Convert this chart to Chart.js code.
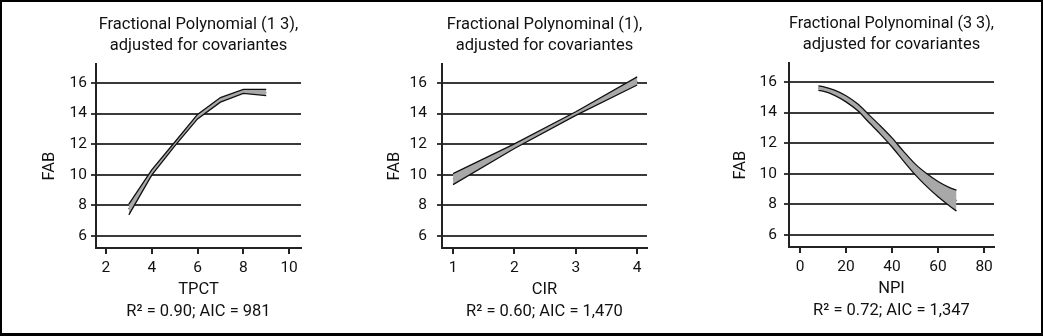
<!DOCTYPE html>
<html>
<head>
<meta charset="utf-8">
<script src="https://cdn.jsdelivr.net/npm/chart.js@4.4.1/dist/chart.umd.min.js"></script>
<style>
  body { margin: 0; background: #fff; }
  #page { position: relative; width: 1043px; height: 336px; overflow: hidden; background: #fff; }
  #frame { position: absolute; left: 0; top: 0; width: 1043px; height: 336px; box-sizing: border-box;
           border: 2px solid #000; border-bottom-width: 3px; pointer-events: none; }
  canvas { position: absolute; }
  .ylab { position: absolute; color: #111; white-space: nowrap; line-height: 1;
          font: 16.5px Roboto, 'Liberation Sans', sans-serif;
          transform: translate(-50%, -50%) rotate(-90deg); }
</style>
</head>
<body>
<div id="page">
  <canvas id="c1" width="347" height="336" style="left:1px;top:0"></canvas>
  <canvas id="c2" width="347" height="336" style="left:347px;top:0"></canvas>
  <canvas id="c3" width="347" height="336" style="left:694px;top:-1px"></canvas>
  <div class="ylab" style="left:47.5px;top:166px">FAB</div>
  <div class="ylab" style="left:392.5px;top:166px">FAB</div>
  <div class="ylab" style="left:739px;top:165px">FAB</div>
  <div id="frame"></div>
</div>
<script>
// shared y axis
const fabTicks = [6, 8, 10, 12, 14, 16];

// panel 1: TPCT
const tpctX = [3, 4, 5, 6, 7, 8, 9];
const tpctFit = [7.75, 10.15, 12.0, 13.8, 14.9, 15.45, 15.38];
const tpctUp = [8.08, 10.32, 12.13, 13.95, 15.05, 15.58, 15.58];
const tpctLow = [7.38, 9.98, 11.87, 13.65, 14.75, 15.32, 15.18];
const tpctTicks = [2, 4, 6, 8, 10];

// panel 2: CIR
const cirX = [1, 2, 3, 4];
const cirFit = [9.72, 11.87, 14.0, 16.13];
const cirUp = [10.08, 12.02, 14.12, 16.4];
const cirLow = [9.36, 11.72, 13.88, 15.87];
const cirTicks = [1, 2, 3, 4];

// panel 3: NPI
const npiX = [8, 10, 15, 20, 25, 30, 35, 40, 45, 50, 55, 60, 65, 68];
const npiFit = [15.6, 15.55, 15.3, 14.9, 14.35, 13.6, 12.85, 12.05, 11.15, 10.3, 9.6, 9.0, 8.5, 8.25];
const npiUp = [15.75, 15.7, 15.47, 15.1, 14.57, 13.85, 13.12, 12.35, 11.47, 10.65, 10.02, 9.5, 9.1, 8.93];
const npiLow = [15.45, 15.4, 15.13, 14.7, 14.13, 13.35, 12.58, 11.75, 10.83, 9.95, 9.18, 8.5, 7.9, 7.57];
const npiTicks = [0, 20, 40, 60, 80];

const titles = [
  ['Fractional Polynomial (1 3),', 'adjusted for covariantes'],
  ['Fractional Polynominal (1),', 'adjusted for covariantes'],
  ['Fractional Polynominal (3 3),', 'adjusted for covariantes']
];
const xTitles = ['TPCT', 'CIR', 'NPI'];
const stats = ['R\u00B2 = 0.90; AIC = 981', 'R\u00B2 = 0.60; AIC = 1,470', 'R\u00B2 = 0.72; AIC = 1,347'];

const FONT = "Roboto, 'Liberation Sans', sans-serif";
const TEXT = '#111';
const GRID = '#3a3a3a';
const AXIS = '#222';
const BAND = '#a8a8a8';

function pts(xs, ys) {
  return xs.map((x, i) => ({ x: x, y: ys[i] }));
}

function makePanel(id, cfg) {
  const ctx = document.getElementById(id).getContext('2d');
  new Chart(ctx, {
    type: 'line',
    data: {
      datasets: [
        { data: pts(cfg.x, cfg.low), borderColor: '#111', borderWidth: 1.3, fill: false },
        { data: pts(cfg.x, cfg.up), borderColor: '#111', borderWidth: 1.3, fill: '-1', backgroundColor: BAND },
        { data: pts(cfg.x, cfg.fit), borderColor: '#111', borderWidth: 1.5, fill: false }
      ]
    },
    options: {
      responsive: false,
      animation: false,
      elements: {
        point: { radius: 0 },
        line: { tension: cfg.tension, cubicInterpolationMode: cfg.tension ? 'monotone' : 'default' }
      },
      layout: { padding: { left: 27, right: 47, top: 0, bottom: 0 } },
      plugins: {
        legend: { display: false },
        tooltip: { enabled: false },
        title: {
          display: true,
          text: cfg.title,
          fullSize: false,
          color: TEXT,
          font: { family: FONT, size: 16.5, weight: 'normal', lineHeight: 21 / 16.5 },
          padding: { top: 14.5, bottom: 7.5 }
        }
      },
      scales: {
        x: {
          type: 'linear',
          min: cfg.xmin,
          max: cfg.xmax,
          afterBuildTicks: s => { s.ticks = cfg.xticks.map(v => ({ value: v })); },
          afterFit: s => { s.height = 88; },
          grid: { drawOnChartArea: false, drawTicks: true, tickLength: 6, color: AXIS, lineWidth: 2 },
          border: { display: true, color: AXIS, width: 2 },
          ticks: { padding: 5, color: TEXT, font: { family: FONT, size: 15.5 }, maxRotation: 0, autoSkip: false },
          title: {
            display: true,
            text: [cfg.xtitle, cfg.stat],
            color: TEXT,
            font: { family: FONT, size: 16.5, lineHeight: 22 / 16.5 },
            padding: { top: 0, bottom: 13 }
          }
        },
        y: {
          type: 'linear',
          min: 5.22,
          max: 17.24,
          afterBuildTicks: s => { s.ticks = fabTicks.map(v => ({ value: v })); },
          afterFit: s => { s.width = 68; },
          grid: { color: GRID, lineWidth: 2, tickLength: 5 },
          border: { display: true, color: AXIS, width: 2 },
          ticks: { padding: cfg.ypad, color: TEXT, font: { family: FONT, size: 15.5 } }
        }
      }
    }
  });
}

makePanel('c1', {
  x: tpctX, fit: tpctFit, up: tpctUp, low: tpctLow, xticks: tpctTicks,
  xmin: 1.565, xmax: 10.52, tension: 0, ypad: 4,
  title: titles[0], xtitle: xTitles[0], stat: stats[0]
});
makePanel('c2', {
  x: cirX, fit: cirFit, up: cirUp, low: cirLow, xticks: cirTicks,
  xmin: 0.82, xmax: 4.16, tension: 0, ypad: 10,
  title: titles[1], xtitle: xTitles[1], stat: stats[1]
});
makePanel('c3', {
  x: npiX, fit: npiFit, up: npiUp, low: npiLow, xticks: npiTicks,
  xmin: -4.78, xmax: 84.3, tension: 0.4, ypad: 7,
  title: titles[2], xtitle: xTitles[2], stat: stats[2]
});
</script>
</body>
</html>
